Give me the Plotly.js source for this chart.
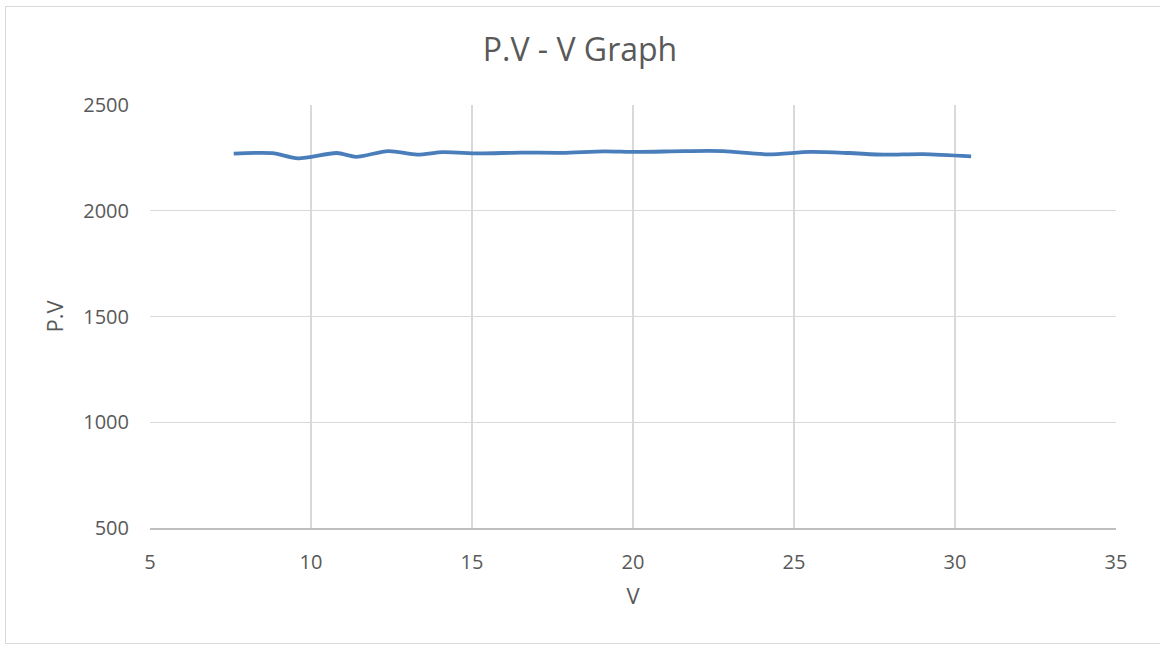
<!DOCTYPE html>
<html>
<head>
<meta charset="utf-8">
<script src="https://cdn.plot.ly/plotly-3.0.1.min.js"></script>
<style>
  html, body { margin: 0; padding: 0; background: #fff; }
  #wrap { position: relative; width: 1160px; height: 646px; overflow: hidden; }
  #frame { position: absolute; left: 5px; top: 6px; width: 1200px; height: 638px;
           border: 1px solid #d9d9d9; box-sizing: border-box; pointer-events: none; z-index: 5; }
  #chart { position: absolute; left: 0; top: 0; width: 1160px; height: 646px; }
</style>
</head>
<body>
<div id="wrap">
  <div id="chart"></div>
  <div id="frame"></div>
</div>
<script>
const voltage = [7.6, 8.8, 9.6, 10.8, 11.4, 12.4, 13.3, 14.1, 15.2, 16.5, 17.8, 19.1, 20.1, 21.6, 22.8, 24.2, 25.5, 26.7, 27.8, 29.0, 30.5];
const pv      = [2270, 2272, 2248, 2273, 2255, 2282, 2265, 2277, 2271, 2275, 2274, 2281, 2278, 2282, 2282, 2267, 2278, 2273, 2265, 2268, 2257];
const xTicks = [5, 10, 15, 20, 25, 30, 35];
const yTicks = [500, 1000, 1500, 2000, 2500];

const fontFam = '"Open Sans", "Noto Sans", sans-serif';
const textCol = '#595959';

const trace = {
  x: voltage,
  y: pv,
  type: 'scatter',
  mode: 'lines',
  line: { color: '#4a7ebb', width: 3.8, shape: 'spline', smoothing: 0.8 },
  hoverinfo: 'x+y'
};

const layout = {
  width: 1160,
  height: 646,
  paper_bgcolor: '#ffffff',
  plot_bgcolor: '#ffffff',
  margin: { l: 150, r: 44, t: 105, b: 118 },
  showlegend: false,
  title: {
    text: 'P.V - V Graph',
    font: { family: fontFam, size: 32, color: textCol },
    x: 0.5, xanchor: 'center',
    y: 1 - 50/646, yanchor: 'middle'
  },
  xaxis: {
    range: [5, 35],
    tickvals: xTicks,
    ticktext: xTicks.map(String),
    showgrid: true,
    gridcolor: '#d9d9d9',
    gridwidth: 1.3,
    zeroline: false,
    showline: true,
    linecolor: '#bfbfbf',
    linewidth: 1.5,
    ticks: '',
    ticklabelstandoff: 15,
    tickfont: { family: fontFam, size: 20, color: textCol },
    title: { text: 'V', font: { family: fontFam, size: 22, color: textCol }, standoff: 15 }
  },
  yaxis: {
    range: [500, 2500],
    tickvals: yTicks,
    ticktext: yTicks.map(String),
    showgrid: true,
    gridcolor: '#d9d9d9',
    gridwidth: 1.3,
    zeroline: false,
    showline: false,
    ticks: '',
    ticklabelstandoff: 20,
    tickfont: { family: fontFam, size: 20, color: textCol },
    title: { text: 'P.V', font: { family: fontFam, size: 22, color: textCol }, standoff: 13 }
  }
};

Plotly.newPlot('chart', [trace], layout, { displayModeBar: false, staticPlot: true });
</script>
</body>
</html>
